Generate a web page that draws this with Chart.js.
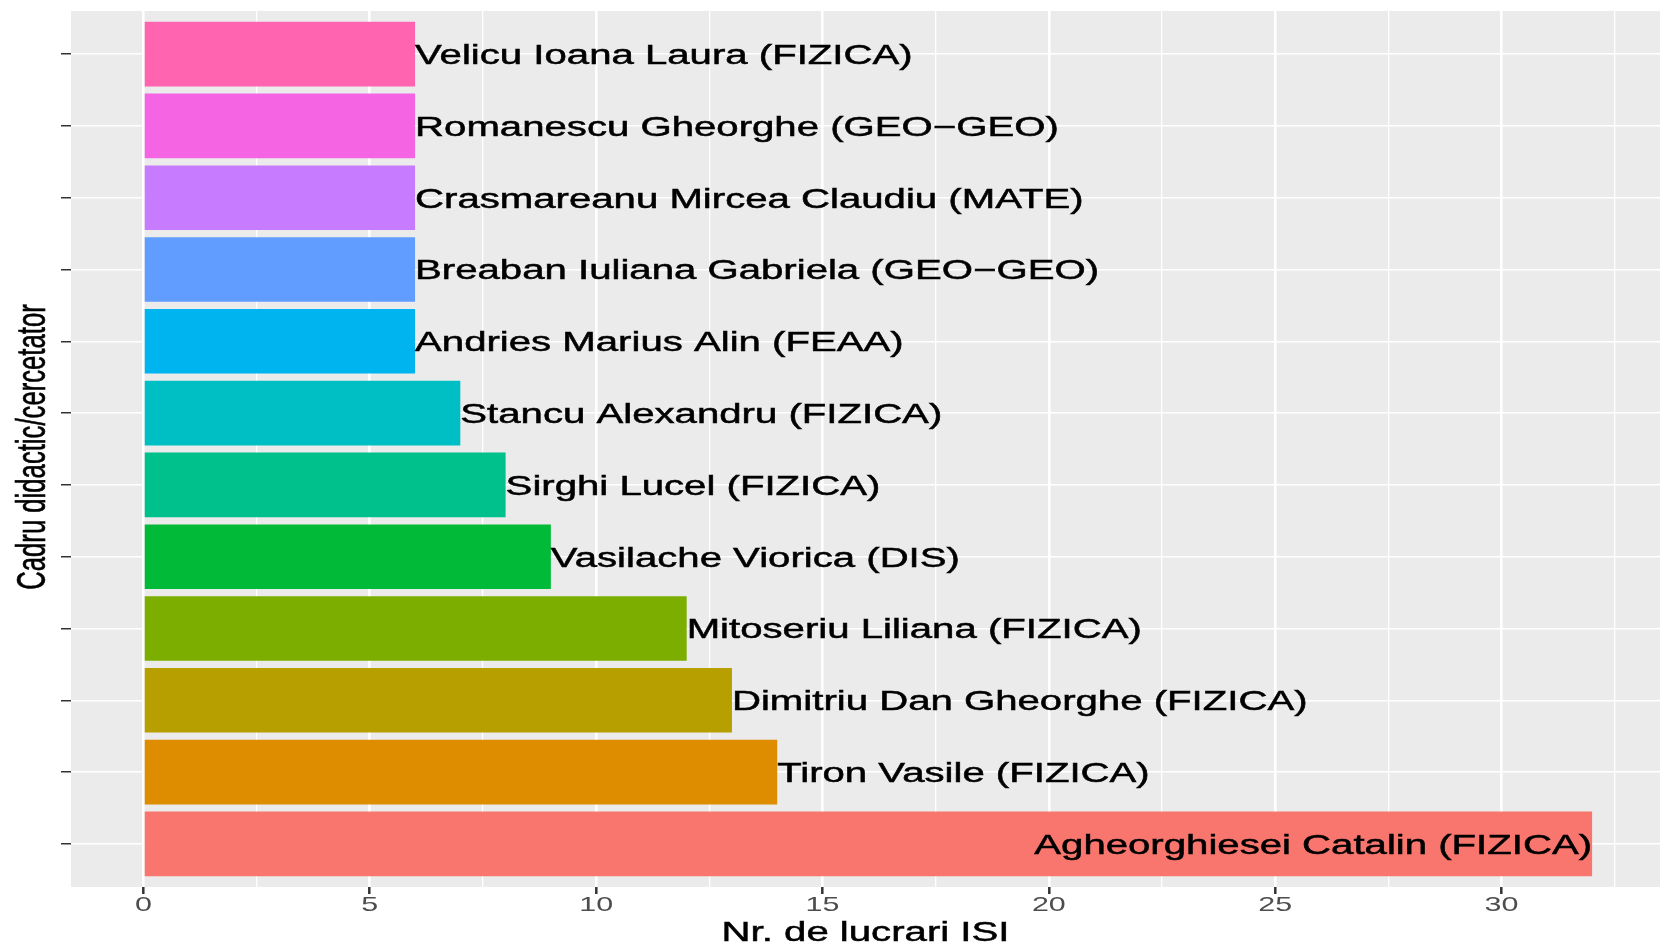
<!DOCTYPE html>
<html>
<head>
<meta charset="utf-8">
<title>Nr. de lucrari ISI</title>
<script src="https://cdn.jsdelivr.net/npm/chart.js@4"></script>
<style>
  html, body { margin: 0; padding: 0; background: #fff; }
  #wrap { width: 1660px; height: 942px; }
</style>
</head>
<body>
<div id="wrap"><canvas id="myChart" width="1660" height="942"></canvas></div>
<script>
// bottom to top, like the ggplot order
const names = [
  "Agheorghiesei Catalin (FIZICA)",
  "Tiron Vasile (FIZICA)",
  "Dimitriu Dan Gheorghe (FIZICA)",
  "Mitoseriu Liliana (FIZICA)",
  "Vasilache Viorica (DIS)",
  "Sirghi Lucel (FIZICA)",
  "Stancu Alexandru (FIZICA)",
  "Andries Marius Alin (FEAA)",
  "Breaban Iuliana Gabriela (GEO\u2212GEO)",
  "Crasmareanu Mircea Claudiu (MATE)",
  "Romanescu Gheorghe (GEO\u2212GEO)",
  "Velicu Ioana Laura (FIZICA)"
];
const lucrari = [32, 14, 13, 12, 9, 8, 7, 6, 6, 6, 6, 6];
const culori = ["#F8766D", "#DE8C00", "#B79F00", "#7CAE00", "#00BA38", "#00C08B",
                "#00BFC4", "#00B4F0", "#619CFF", "#C77CFF", "#F564E3", "#FF64B0"];
const xTicks = [0, 5, 10, 15, 20, 25, 30];
const xTitle = "Nr. de lucrari ISI";
const yTitle = "Cadru didactic/cercetator";

// the picture is stretched sideways, so all text gets this factor
const SX = 1.45;
const FONT = "Liberation Sans, Arial, sans-serif";

function drawText(ctx, txt, x, y, size, color, align, heavy){
  ctx.save();
  ctx.translate(x, y);
  ctx.scale(SX, 1);
  ctx.font = size + "px " + FONT;
  ctx.fillStyle = color;
  ctx.textAlign = align;
  ctx.textBaseline = "alphabetic";
  ctx.fillText(txt, 0, 0);
  if (heavy) {
    // the reference text looks a bit heavier
    ctx.strokeStyle = color;
    ctx.lineWidth = 0.5;
    ctx.strokeText(txt, 0, 0);
  }
  ctx.restore();
}

const panelBg = {
  id: "panelBg",
  beforeDraw(chart){
    const a = chart.chartArea, ctx = chart.ctx;
    ctx.save();
    ctx.fillStyle = "#EBEBEB";
    ctx.fillRect(a.left, a.top, a.right - a.left, a.bottom - a.top);
    ctx.restore();
  }
};

const textLayer = {
  id: "textLayer",
  afterDatasetsDraw(chart){
    const ctx = chart.ctx, a = chart.chartArea;
    const xs = chart.scales.x;
    const meta = chart.getDatasetMeta(0);
    const fs = 27.7;
    ctx.font = fs + "px " + FONT;
    meta.data.forEach(function(bar, i){
      const w = ctx.measureText(names[i]).width * SX;
      const rightAlign = bar.x + w > a.right;
      drawText(ctx, names[i], bar.x, bar.y + 0.716 * fs / 2, fs, "#000", rightAlign ? "right" : "left", true);
    });
    // x tick labels
    xTicks.forEach(function(v){
      drawText(ctx, String(v), xs.getPixelForValue(v), 910.5, 21, "#4D4D4D", "center", false);
    });
    // axis titles
    drawText(ctx, xTitle, (a.left + a.right) / 2, 941, fs, "#000", "center", true);
    ctx.save();
    ctx.translate(45, 447);
    ctx.rotate(-Math.PI / 2);
    ctx.scale(1, 1.6);
    ctx.font = "25.7px " + FONT;
    ctx.fillStyle = "#000";
    ctx.textAlign = "center";
    ctx.fillText(yTitle, 0, 0);
    ctx.strokeStyle = "#000";
    ctx.lineWidth = 0.4;
    ctx.strokeText(yTitle, 0, 0);
    ctx.restore();
  }
};

new Chart(document.getElementById("myChart"), {
  type: "bar",
  data: {
    datasets: [{
      data: lucrari.map(function(v, i){ return {x: v, y: i}; }),
      backgroundColor: culori,
      borderWidth: 0,
      barPercentage: 0.9,
      categoryPercentage: 1.0
    }]
  },
  options: {
    indexAxis: "y",
    responsive: false,
    animation: false,
    devicePixelRatio: 1,
    layout: { padding: { left: 61, top: 11, right: 0, bottom: 48 } },
    plugins: { legend: { display: false }, tooltip: { enabled: false } },
    scales: {
      x: {
        type: "linear",
        min: -1.6,
        max: 33.5,
        afterBuildTicks: function(s){
          const t = [];
          for (let v = 0; v <= 32.5; v += 2.5) t.push({value: v});
          s.ticks = t;
        },
        ticks: { display: false },
        border: { display: false },
        grid: {
          color: "#FFFFFF",
          lineWidth: function(c){ return c.tick && c.tick.value % 5 === 0 ? 2.6 : 1.3; },
          tickColor: function(c){ return c.tick && c.tick.value % 5 === 0 ? "#333333" : "rgba(0,0,0,0)"; },
          tickWidth: 2.5,
          tickLength: 7
        }
      },
      y: {
        type: "linear",
        min: -0.6,
        max: 11.6,
        offset: false,
        afterBuildTicks: function(s){
          s.ticks = names.map(function(n, i){ return {value: i}; });
        },
        ticks: { display: false },
        border: { display: false },
        grid: {
          offset: false,
          color: "#FFFFFF",
          lineWidth: 1.5,
          tickColor: "#333333",
          tickWidth: 1.5,
          tickLength: 10
        }
      }
    }
  },
  plugins: [panelBg, textLayer]
});
</script>
</body>
</html>
